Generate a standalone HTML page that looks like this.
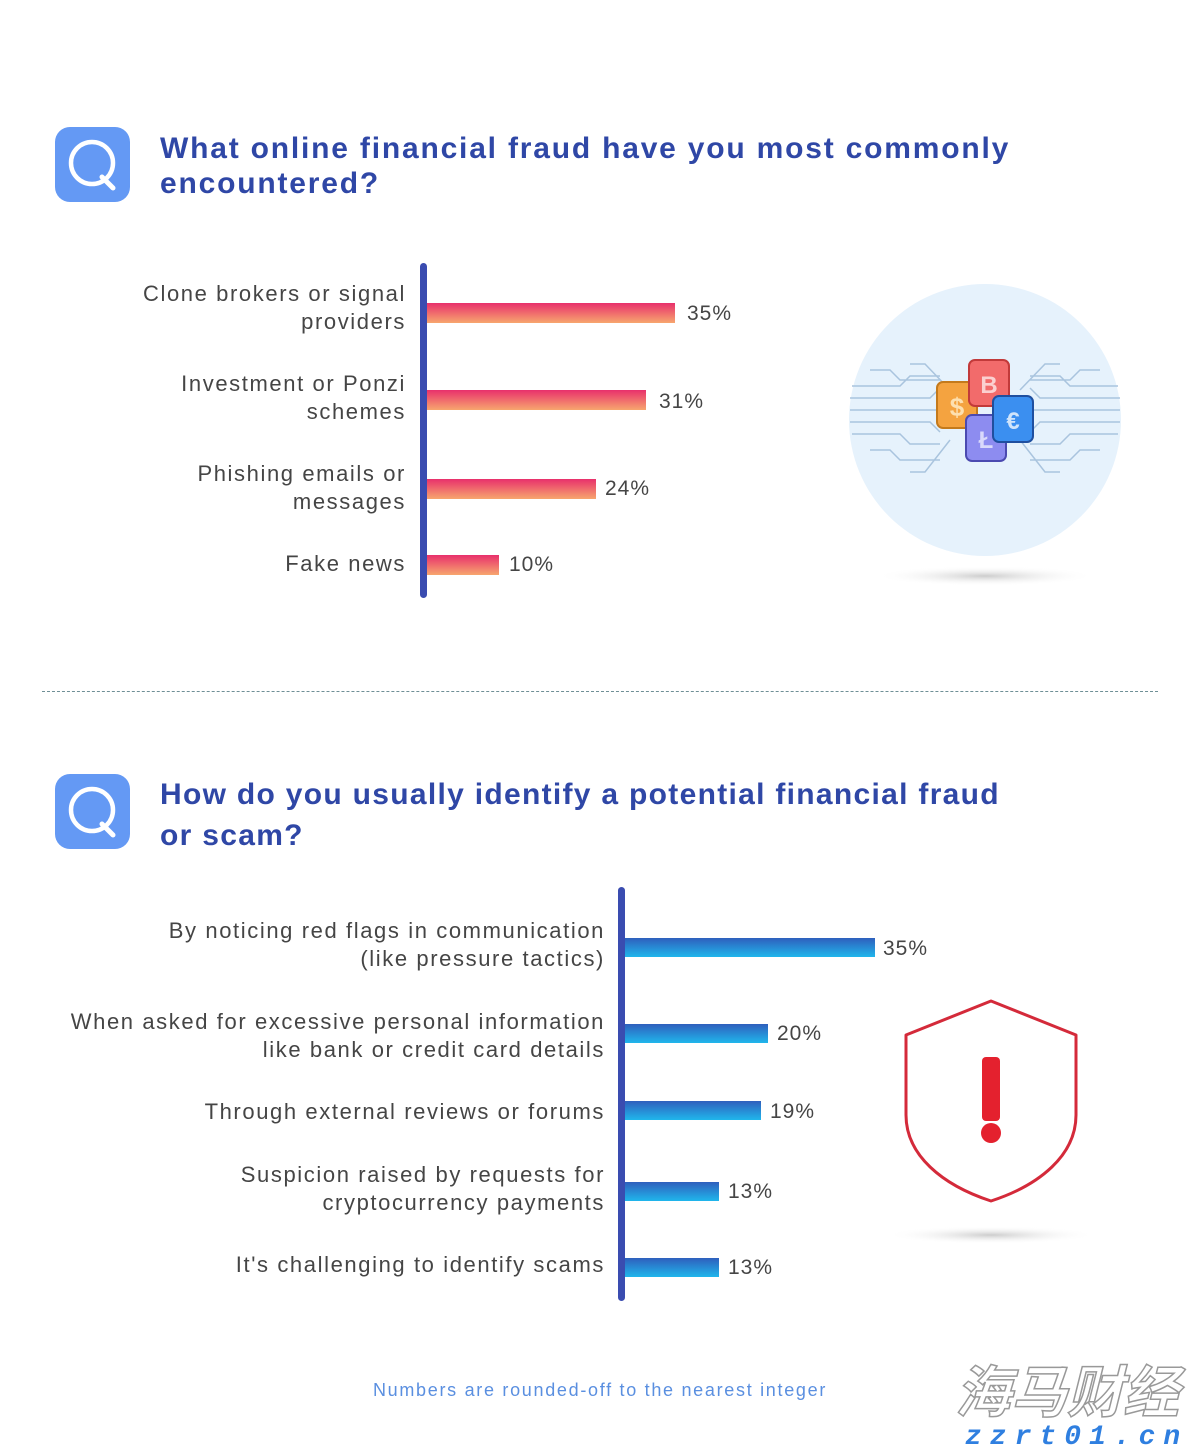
<!DOCTYPE html>
<html><head><meta charset="utf-8"><style>
body{margin:0;width:1200px;height:1454px;background:#fff;position:relative;overflow:hidden;font-family:"Liberation Sans",sans-serif}
.a{position:absolute;white-space:nowrap}
.q{width:75px;height:75px;border-radius:15px;background:#6499f4}
.t{color:#2f47a6;font-weight:bold;font-size:30px}
.lab{color:#454545;font-size:22px;text-align:right;line-height:28px;letter-spacing:1.6px}
.val{color:#454545;font-size:21px;letter-spacing:1px}
.pb{height:20px;background:linear-gradient(#e8306c,#f7a66e)}
.bb{height:19px;background:linear-gradient(#2f5fbd,#20b6ec)}
.ax{background:#3a4cb0;width:7px;border-radius:4px}
</style></head><body>
<div class="a q" style="left:55px;top:127px"><svg width="75" height="75"><circle cx="37" cy="36" r="21" fill="none" stroke="#fff" stroke-width="4.5"/><line x1="47" y1="50" x2="58" y2="61" stroke="#fff" stroke-width="5" stroke-linecap="round"/></svg></div>
<div class="a t" style="left:160px;top:131px;line-height:35px;letter-spacing:1.8px">What online financial fraud have you most commonly<br>encountered?</div>

<div class="a ax" style="left:420px;top:263px;height:335px"></div>
<div class="a lab" style="right:794px;top:280px">Clone brokers or signal<br>providers</div>
<div class="a pb" style="left:427px;top:303px;width:248px"></div><div class="a val" style="left:687px;top:302px">35%</div>
<div class="a lab" style="right:794px;top:370px">Investment or Ponzi<br>schemes</div>
<div class="a pb" style="left:427px;top:390px;width:219px"></div><div class="a val" style="left:659px;top:390px">31%</div>
<div class="a lab" style="right:794px;top:460px">Phishing emails or<br>messages</div>
<div class="a pb" style="left:427px;top:479px;width:169px"></div><div class="a val" style="left:605px;top:477px">24%</div>
<div class="a lab" style="right:794px;top:550px">Fake news</div>
<div class="a pb" style="left:427px;top:555px;width:72px"></div><div class="a val" style="left:509px;top:553px">10%</div>

<svg class="a" style="left:840px;top:280px" width="300" height="310">
<defs><radialGradient id="sh"><stop offset="0" stop-color="#ccc"/><stop offset="1" stop-color="#fff" stop-opacity="0"/></radialGradient></defs>
<circle cx="145" cy="140" r="136" fill="#e6f2fc"/>
<ellipse cx="145" cy="296" rx="110" ry="10" fill="url(#sh)"/>
<g stroke="#a9c4de" stroke-width="1.5" fill="none">
<path d="M10 130H100M10 118H90L100 108M10 142H90L100 152M12 106H60L70 96H100M12 154H60L70 164H100M30 90H50L60 100H100M30 170H50L60 180H100M70 84H85L110 110M70 192H85L110 160"/>
<path d="M280 130H190M280 118H200L190 108M280 142H200L190 152M278 106H230L220 96H190M278 154H230L220 164H190M260 90H240L230 100H190M260 170H240L230 180H190M220 84H205L180 110M220 192H205L180 160"/>
</g>
<rect x="97" y="102" width="40" height="46" rx="6" fill="#f4a340" stroke="#c47a1c" stroke-width="2"/><text x="117" y="136" font-size="26" fill="#fde0b0" text-anchor="middle" font-weight="bold">$</text>
<rect x="129" y="80" width="40" height="46" rx="6" fill="#f26b6b" stroke="#c23a3a" stroke-width="2"/><text x="149" y="113" font-size="24" fill="#fbd0d0" text-anchor="middle" font-weight="bold">B</text>
<rect x="126" y="135" width="40" height="46" rx="6" fill="#8d8cf0" stroke="#4b4ab0" stroke-width="2"/><text x="146" y="168" font-size="24" fill="#d9d9fb" text-anchor="middle" font-weight="bold">Ł</text>
<rect x="153" y="116" width="40" height="46" rx="6" fill="#3b8ff0" stroke="#1f4f9f" stroke-width="2"/><text x="173" y="149" font-size="24" fill="#cfe4fb" text-anchor="middle" font-weight="bold">€</text>
</svg>

<div class="a" style="left:42px;top:691px;width:1116px;border-top:1.5px dashed #6f8f96"></div>

<div class="a q" style="left:55px;top:774px"><svg width="75" height="75"><circle cx="37" cy="36" r="21" fill="none" stroke="#fff" stroke-width="4.5"/><line x1="47" y1="50" x2="58" y2="61" stroke="#fff" stroke-width="5" stroke-linecap="round"/></svg></div>
<div class="a t" style="left:160px;top:774px;line-height:41px;letter-spacing:1.3px">How do you usually identify a potential financial fraud<br>or scam?</div>

<div class="a ax" style="left:618px;top:887px;height:414px"></div>
<div class="a lab" style="right:595px;top:917px">By noticing red flags in communication<br>(like pressure tactics)</div>
<div class="a bb" style="left:625px;top:938px;width:250px"></div><div class="a val" style="left:883px;top:937px">35%</div>
<div class="a lab" style="right:595px;top:1008px">When asked for excessive personal information<br>like bank or credit card details</div>
<div class="a bb" style="left:625px;top:1024px;width:143px"></div><div class="a val" style="left:777px;top:1022px">20%</div>
<div class="a lab" style="right:595px;top:1098px">Through external reviews or forums</div>
<div class="a bb" style="left:625px;top:1101px;width:136px"></div><div class="a val" style="left:770px;top:1100px">19%</div>
<div class="a lab" style="right:595px;top:1161px">Suspicion raised by requests for<br>cryptocurrency payments</div>
<div class="a bb" style="left:625px;top:1182px;width:94px"></div><div class="a val" style="left:728px;top:1180px">13%</div>
<div class="a lab" style="right:595px;top:1251px">It's challenging to identify scams</div>
<div class="a bb" style="left:625px;top:1258px;width:94px"></div><div class="a val" style="left:728px;top:1256px">13%</div>

<svg class="a" style="left:880px;top:995px" width="230" height="255">
<defs><radialGradient id="sh2"><stop offset="0" stop-color="#ccc"/><stop offset="1" stop-color="#fff" stop-opacity="0"/></radialGradient></defs>
<path d="M111 6L196 40V120C196 160 160 190 111 206C62 190 26 160 26 120V40Z" fill="#fff" stroke="#d42a3a" stroke-width="3" stroke-linejoin="round"/>
<rect x="102" y="62" width="18" height="64" rx="4" fill="#e4212e"/>
<circle cx="111" cy="138" r="10" fill="#e4212e"/>
<ellipse cx="111" cy="240" rx="105" ry="9" fill="url(#sh2)"/>
</svg>

<div class="a" style="left:0;width:1200px;top:1380px;text-align:center;color:#5a8fe0;font-size:18px;letter-spacing:1.7px">Numbers are rounded-off to the nearest integer</div>

<div class="a" style="left:955px;top:1357px;font-size:56px;font-style:italic;font-weight:bold;color:#fff;-webkit-text-stroke:1.5px #999;font-family:'Noto Sans CJK SC',sans-serif;line-height:64px">海马财经</div>
<div class="a" style="left:965px;top:1422px;font-size:28px;font-style:italic;font-weight:bold;color:#2f7fe0;letter-spacing:8px;font-family:'Liberation Mono',monospace">zzrt01.cn</div>
</body></html>
